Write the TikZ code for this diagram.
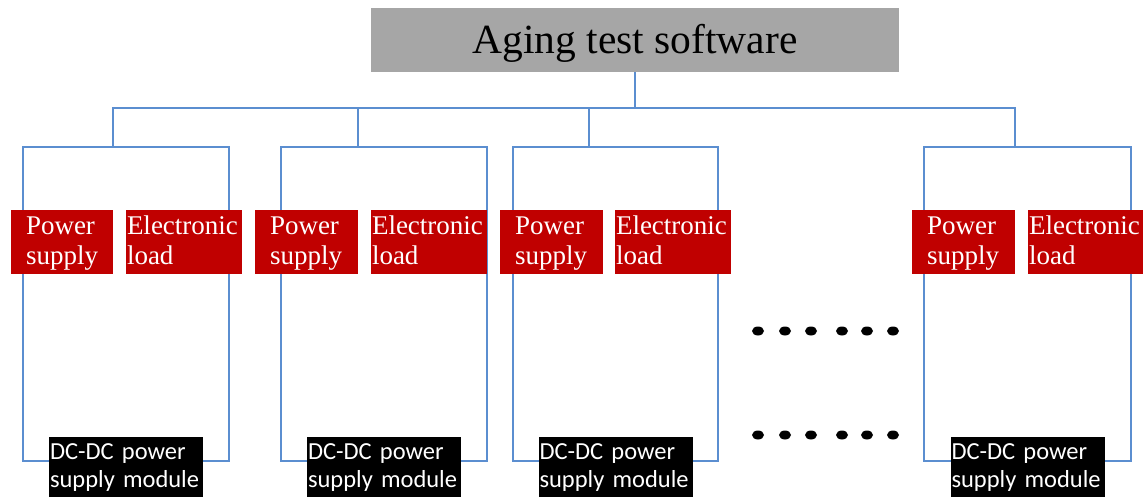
\documentclass[tikz,border=0pt]{standalone}
\usepackage{fontspec}
\setmainfont{Liberation Serif}
\newfontfamily\calibrifont{Carlito}
\definecolor{boxgrey}{HTML}{A6A6A6}
\definecolor{boxred}{HTML}{C00000}
\definecolor{wireblue}{HTML}{5B8ED0}
\usetikzlibrary{shapes.geometric}
\tikzset{
  wire/.style={draw=wireblue, line width=1.6pt},
  topbox/.style={fill=boxgrey, minimum width=528pt, minimum height=64pt, inner sep=0pt,
    text height=28pt, text depth=2pt, font=\fontsize{41.5}{44}\selectfont},
  psbox/.style={fill=boxred, text=white, minimum height=64pt, inner xsep=15pt, inner ysep=0pt,
    text width=73pt, align=left, font=\fontsize{27}{30}\selectfont},
  elbox/.style={fill=boxred, text=white, minimum height=64pt, inner xsep=1pt, inner ysep=0pt,
    text width=114pt, align=left, font=\fontsize{27}{30}\selectfont},
  dcbox/.style={fill=black, text=white, minimum height=60pt, inner xsep=1pt, inner ysep=0pt,
    text width=152pt, align=left, font=\calibrifont\fontsize{24.5}{28}\selectfont},
  dot/.style={fill=black, ellipse, minimum width=12pt, minimum height=9pt, inner sep=0pt}
}
\newcommand{\twolines}[2]{\mbox{\rule{0pt}{24pt}#1}\\\mbox{#2\strut}}
\newcommand{\twolinesdc}[2]{\mbox{\rule{0pt}{21pt}#1}\\\mbox{#2\strut}}
\begin{document}
\begin{tikzpicture}[x=1pt, y=-1pt]
\useasboundingbox (0,0) rectangle (1146,498);
% top
\node[topbox] (top) at (635,40) {Aging test software};
% coordinates
\coordinate (s1) at (113,147);
\coordinate (s2) at (358,147);
\coordinate (s3) at (589,147);
\coordinate (s4) at (1015,147);
\coordinate (b1) at (113,108);
\coordinate (b2) at (358,108);
\coordinate (b3) at (589,108);
\coordinate (b4) at (1015,108);
\draw[wire] (top.south) -- (top.south |- b1);
\draw[wire] (s1) -- (b1) -- (b4) -- (s4);
\draw[wire] (s2) -- (b2);
\draw[wire] (s3) -- (b3);
% group rectangles
\draw[wire] (23,147) rectangle (229,461);
\draw[wire] (281,147) rectangle (487,461);
\draw[wire] (513,147) rectangle (718,461);
\draw[wire] (924,147) rectangle (1131,461);
% red boxes
\node[psbox, text width=72pt] (ps1) at (62,242) {\twolines{Power}{supply}};
\node[psbox] (ps2) at (306.5,242) {\twolines{Power}{supply}};
\node[psbox] (ps3) at (551.5,242) {\twolines{Power}{supply}};
\node[psbox] (ps4) at (963.5,242) {\twolines{Power}{supply}};
\node[elbox] (el1) at (184,242) {\twolines{Electronic}{load}};
\node[elbox] (el2) at (429,242) {\twolines{Electronic}{load}};
\node[elbox] (el3) at (673,242) {\twolines{Electronic}{load}};
\node[elbox, text width=113pt] (el4) at (1085.5,242) {\twolines{Electronic}{load}};
% black boxes
\node[dcbox] (dc1) at (126,467) {\twolinesdc{DC-DC power}{supply module}};
\node[dcbox] (dc2) at (384,467) {\twolinesdc{DC-DC power}{supply module}};
\node[dcbox] (dc3) at (615.5,467) {\twolinesdc{DC-DC power}{supply module}};
\node[dcbox] (dc4) at (1027.5,467) {\twolinesdc{DC-DC power}{supply module}};
% dots
\foreach \x [count=\i] in {758,785,811,842,867,893} {
  \node[dot] (ua\i) at (\x,331) {};
  \node[dot] (la\i) at (\x,435) {};
}
\end{tikzpicture}
\end{document}
